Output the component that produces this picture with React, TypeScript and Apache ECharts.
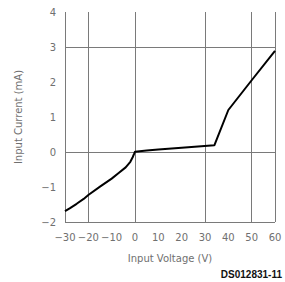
import React, { useEffect, useRef } from "react";
import * as echarts from "echarts";

const voltage = [-30, -28, -25, -22, -20, -15, -10, -7, -4, -2, -1, -0.3, 0, 5, 10, 20, 34, 40, 50, 60];
const current = [-1.69, -1.61, -1.48, -1.34, -1.23, -0.99, -0.76, -0.6, -0.44, -0.28, -0.15, -0.04, 0.01, 0.04, 0.07, 0.12, 0.19, 1.2, 2.05, 2.89];
const xGridLines = [-30, -20, 0, 30, 50, 60];
const yGridLines = [3, 0, -2];

const fmt = (v: number) => (v < 0 ? "\u2212" + Math.abs(v) : String(v));

export default function App() {
  const ref = useRef<HTMLDivElement>(null);
  useEffect(() => {
    if (!ref.current) return;
    const chart = echarts.init(ref.current, null, { renderer: "svg" });
    const gridColor = "#7a7a7a";
    const textColor = "#707070";
    chart.setOption({
      animation: false,
      backgroundColor: "#ffffff",
      grid: { left: 65, right: 10, top: 12, bottom: 60 },
      xAxis: {
        type: "value",
        min: -30,
        max: 60,
        interval: 10,
        axisLine: { show: false },
        axisTick: { show: false },
        splitLine: { show: false },
        axisLabel: { formatter: fmt, color: textColor, fontSize: 10, margin: 10, fontFamily: "DejaVu Sans" },
        name: "Input Voltage (V)",
        nameLocation: "middle",
        nameGap: 31,
        nameTextStyle: { color: textColor, fontSize: 10, fontFamily: "DejaVu Sans" },
      },
      yAxis: {
        type: "value",
        min: -2,
        max: 4,
        interval: 1,
        axisLine: { show: false },
        axisTick: { show: false },
        splitLine: { show: false },
        axisLabel: { formatter: fmt, color: textColor, fontSize: 10, margin: 9, fontFamily: "DejaVu Sans" },
        name: "Input Current (mA)",
        nameLocation: "middle",
        nameGap: 42,
        nameRotate: 90,
        nameTextStyle: { color: textColor, fontSize: 10, fontFamily: "DejaVu Sans" },
      },
      series: [
        {
          type: "line",
          data: voltage.map((v, i) => [v, current[i]]),
          showSymbol: false,
          smooth: false,
          lineStyle: { color: "#000", width: 2 },
          z: 5,
          markLine: {
            silent: true,
            symbol: "none",
            label: { show: false },
            lineStyle: { color: gridColor, width: 1, type: "solid" },
            data: [
              ...xGridLines.map((x) => ({ xAxis: x })),
              ...yGridLines.map((y) => ({ yAxis: y })),
            ],
          },
        },
      ],
      graphic: [
        {
          type: "text",
          right: 3,
          top: 269,
          style: { text: "DS012831-11", font: "bold 10px Liberation Sans", fill: "#111" },
        },
      ],
    });
    return () => chart.dispose();
  }, []);
  return <div ref={ref} style={{ position: "absolute", left: 0, top: 0, width: 285, height: 282 }} />;
}
